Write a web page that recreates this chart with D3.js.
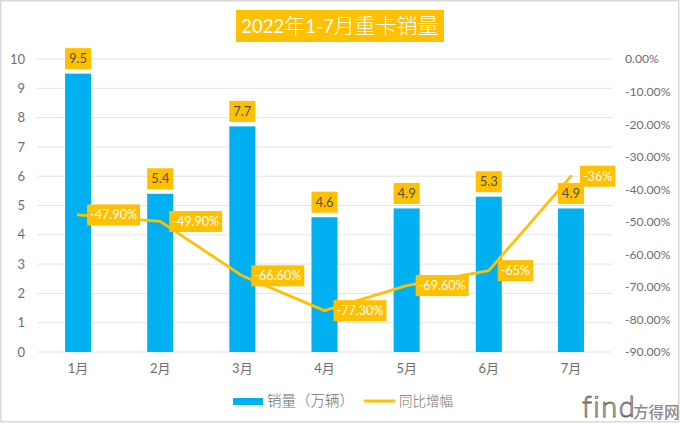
<!DOCTYPE html>
<html>
<head>
<meta charset="utf-8">
<script src="https://cdn.jsdelivr.net/npm/d3@7/dist/d3.min.js"></script>
<style>
    html, body { margin: 0; padding: 0; background: #fff; }
    svg { display: block; }
    text { font-family: Lato, "Noto Sans CJK SC", sans-serif; }
</style>
</head>
<body>
<div id="chart"></div>
<script>
const months = ['1月', '2月', '3月', '4月', '5月', '6月', '7月'];
const sales = [9.5, 5.4, 7.7, 4.6, 4.9, 5.3, 4.9];
const growth = [-47.9, -49.9, -66.6, -77.3, -69.6, -65, -36];
const growthLabels = ['-47.90%', '-49.90%', '-66.60%', '-77.30%', '-69.60%', '-65%', '-36%'];
const leftTicks = [0, 1, 2, 3, 4, 5, 6, 7, 8, 9, 10];
const rightTicks = [0, -10, -20, -30, -40, -50, -60, -70, -80, -90];
const titleParts = ['2022', '年', '1-7', '月重卡销量'];
const legendNames = ['销量（万辆）', '同比增幅'];

const orange = '#ffc000';
const blue = '#00b0f0';
const grey = '#6e6e6e';

const svg = d3.select('#chart').append('svg')
    .attr('width', 680)
    .attr('height', 424);

// outer frame
svg.append('rect')
    .attr('x', 0.75).attr('y', 0.75)
    .attr('width', 678).attr('height', 421)
    .attr('fill', '#fff')
    .attr('stroke', '#d9d9d9')
    .attr('stroke-width', 1.5);

const x = d3.scaleBand().domain(months).range([37, 612]).paddingInner(0.683).paddingOuter(0.3415);
const yLeft = d3.scaleLinear().domain([0, 10]).range([352, 59]);
const yRight = d3.scaleLinear().domain([-90, 0]).range([352, 59]);
const cx = (i) => x(months[i]) + x.bandwidth() / 2;

// gridlines
svg.append('g')
    .selectAll('line')
    .data(leftTicks)
    .enter()
    .append('line')
    .attr('x1', 37).attr('x2', 612)
    .attr('y1', (d) => yLeft(d)).attr('y2', (d) => yLeft(d))
    .attr('stroke', '#e4e4e4')
    .attr('stroke-width', 1);

// axes, domain and tick marks hidden
const axisLeft = svg.append('g')
    .attr('transform', 'translate(37,0)')
    .call(d3.axisLeft(yLeft).tickValues(leftTicks).tickSize(0).tickPadding(12));
const axisRight = svg.append('g')
    .attr('transform', 'translate(612,0)')
    .call(d3.axisRight(yRight).tickValues(rightTicks).tickSize(0).tickPadding(13)
        .tickFormat((d) => d3.format('.2f')(d).replace('−', '-') + '%'));
const axisBottom = svg.append('g')
    .attr('transform', 'translate(0,352)')
    .call(d3.axisBottom(x).tickSize(0).tickPadding(12));

[axisLeft, axisRight, axisBottom].forEach((a) => {
    a.select('.domain').remove();
    a.selectAll('text')
        .attr('fill', grey)
        .style('font-family', 'Lato, "Noto Sans CJK SC", sans-serif')
        .style('font-size', '12.2px');
});
axisBottom.selectAll('text').style('font-size', '13px');
axisLeft.selectAll('text').style('font-size', '13px');

// bars
svg.append('g')
    .selectAll('rect')
    .data(sales)
    .enter()
    .append('rect')
    .attr('x', (d, i) => x(months[i]))
    .attr('y', (d) => yLeft(d))
    .attr('width', x.bandwidth())
    .attr('height', (d) => yLeft(0) - yLeft(d))
    .attr('fill', blue);

// growth line
const line = d3.line()
    .x((d, i) => cx(i))
    .y((d) => yRight(d));

svg.append('path')
    .datum(growth)
    .attr('d', line)
    .attr('fill', 'none')
    .attr('stroke', orange)
    .attr('stroke-width', 2.8)
    .attr('stroke-linejoin', 'round')
    .attr('stroke-linecap', 'round');

// labels above bars
const barLabels = svg.append('g')
    .selectAll('g')
    .data(sales)
    .enter()
    .append('g');

barLabels.append('rect')
    .attr('x', (d, i) => x(months[i]))
    .attr('y', (d) => yLeft(d) - 25.5)
    .attr('width', x.bandwidth())
    .attr('height', 21)
    .attr('fill', orange);

barLabels.append('text')
    .attr('x', (d, i) => cx(i))
    .attr('y', (d) => yLeft(d) - 15)
    .attr('dy', '0.35em')
    .attr('text-anchor', 'middle')
    .attr('fill', '#505050')
    .style('font-size', '13px')
    .text((d) => d3.format('.1f')(d));

// labels right of the line points
const lineLabels = svg.append('g')
    .selectAll('g')
    .data(growth)
    .enter()
    .append('g');

const lineRects = lineLabels.append('rect')
    .attr('y', (d) => yRight(d) - 10.5)
    .attr('height', 21)
    .attr('fill', orange);

const lineTexts = lineLabels.append('text')
    .attr('x', (d, i) => cx(i) + 12)
    .attr('y', (d) => yRight(d))
    .attr('dy', '0.35em')
    .attr('fill', '#fff')
    .style('font-size', '12.6px')
    .text((d, i) => growthLabels[i]);

lineTexts.each(function (d, i) {
    const w = this.getComputedTextLength();
    d3.select(lineRects.nodes()[i])
        .attr('x', cx(i) + 9)
        .attr('width', w + 6);
});

// title
svg.append('rect')
    .attr('x', 236).attr('y', 10)
    .attr('width', 208).attr('height', 32)
    .attr('fill', orange);

const title = svg.append('text')
    .attr('x', 340)
    .attr('y', 33)
    .attr('text-anchor', 'middle')
    .attr('fill', '#fff');

title.selectAll('tspan')
    .data(titleParts)
    .enter()
    .append('tspan')
    .style('font-size', (d, i) => (i % 2 === 0 ? '18.5px' : '21px'))
    .style('font-weight', (d, i) => (i % 2 === 0 ? 400 : 300))
    .text((d) => d);

// legend
svg.append('rect')
    .attr('x', 233).attr('y', 398)
    .attr('width', 30).attr('height', 7)
    .attr('fill', blue);
svg.append('text')
    .attr('x', 267).attr('y', 401)
    .attr('dy', '0.35em')
    .attr('fill', grey)
    .style('font-size', '14.5px')
    .style('font-weight', 300)
    .text(legendNames[0]);
svg.append('line')
    .attr('x1', 365).attr('x2', 394)
    .attr('y1', 401).attr('y2', 401)
    .attr('stroke', orange)
    .attr('stroke-width', 2.8)
    .attr('stroke-linecap', 'round');
svg.append('text')
    .attr('x', 399).attr('y', 401)
    .attr('dy', '0.35em')
    .attr('fill', grey)
    .style('font-size', '13.5px')
    .style('font-weight', 300)
    .text(legendNames[1]);

// watermark
svg.append('text')
    .attr('x', 582).attr('y', 417)
    .attr('fill', '#fff')
    .attr('stroke', '#666')
    .attr('stroke-width', 0.9)
    .attr('letter-spacing', 1.5)
    .style('font-size', '29px')
    .style('font-weight', 300)
    .text('find');
svg.append('text')
    .attr('x', 633).attr('y', 418)
    .attr('fill', '#8a8a8a')
    .style('font-size', '15.5px')
    .style('font-weight', 500)
    .text('方得网');
</script>
</body>
</html>
